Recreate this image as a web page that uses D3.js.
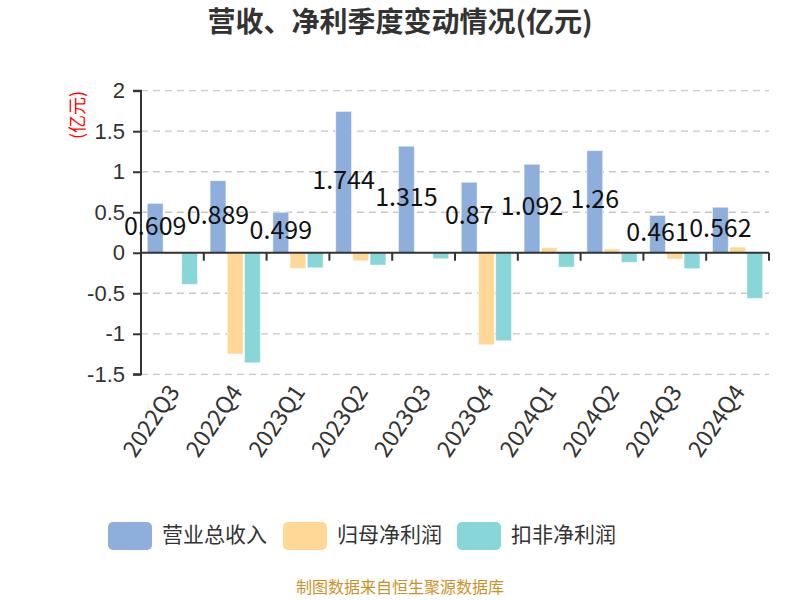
<!DOCTYPE html>
<html><head><meta charset="utf-8">
<script src="https://cdn.jsdelivr.net/npm/d3@7"></script>
<style>body{margin:0;background:#fff}svg{display:block;font-family:"Microsoft YaHei","Noto Sans CJK SC","Noto Sans",sans-serif}</style>
</head><body><svg id="c" width="800" height="600"></svg>
<script>
const categories = ["2022Q3","2022Q4","2023Q1","2023Q2","2023Q3","2023Q4","2024Q1","2024Q2","2024Q3","2024Q4"];
const revenue = [0.609,0.889,0.499,1.744,1.315,0.87,1.092,1.26,0.461,0.562];
const netProfit = [-0.02,-1.25,-0.193,-0.10,-0.005,-1.135,0.062,0.046,-0.078,0.07];
const deductedProfit = [-0.39,-1.358,-0.185,-0.152,-0.074,-1.086,-0.177,-0.119,-0.197,-0.563];
const seriesNames = ["营业总收入","归母净利润","扣非净利润"];
const colors = ["#8eaedb","#ffd898","#88d6d8"];
const yTicks = [2,1.5,1,0.5,0,-0.5,-1,-1.5];
const yTickLabels = ["2","1.5","1","0.5","0","-0.5","-1","-1.5"];

const svg = d3.select("#c");
const L=141, R=769, T=90.7, B=374.3;
const y = d3.scaleLinear().domain([-1.5,2]).range([B,T]);
const x = d3.scaleBand().domain(categories).range([L,R]).padding(0);
const step = x.step();
const x1 = d3.scaleBand().domain([0,1,2]).range([step*0.1,step*0.9]).paddingInner(0.08);

// title
svg.append("text").attr("x",400).attr("y",24).attr("text-anchor","middle").attr("dominant-baseline","middle")
  .attr("font-size",28).attr("font-weight","bold").attr("fill","#333").text("营收、净利季度变动情况(亿元)");

// grid
svg.append("g").selectAll("line").data(yTicks.filter(d=>d!==0)).join("line")
  .attr("x1",L).attr("x2",R).attr("y1",d=>y(d)).attr("y2",d=>y(d))
  .attr("stroke","#c8c8c8").attr("stroke-width",1.3).attr("stroke-dasharray","7,5");

// y axis
const yAxis = d3.axisLeft(y).tickValues(yTicks).tickFormat((d,i)=>yTickLabels[i]).tickSize(8).tickPadding(8);
const gy = svg.append("g").attr("transform",`translate(${L},0)`).call(yAxis);
gy.select(".domain").attr("stroke","#333").attr("stroke-width",2).attr("d",`M-8,${B}H0V${T}H-8`);
gy.selectAll(".tick line").attr("stroke","#333").attr("stroke-width",2);
gy.selectAll(".tick text").attr("font-size",22).attr("fill","#333").attr("font-family",null);

// y axis name
svg.append("text").attr("transform",`translate(79,115) rotate(-90)`).attr("text-anchor","middle").attr("dominant-baseline","middle")
  .attr("font-size",18).attr("fill","red").text("(亿元)");

// bars
const series = [revenue, netProfit, deductedProfit];
series.forEach((vals,si)=>{
  svg.append("g").selectAll("rect").data(vals).join("rect")
    .attr("x",(d,i)=>x(categories[i])+x1(si))
    .attr("width",x1.bandwidth())
    .attr("y",d=>Math.min(y(d),y(0)))
    .attr("height",d=>Math.abs(y(d)-y(0)))
    .attr("fill",colors[si]).attr("stroke","#fff").attr("stroke-opacity",0.5).attr("stroke-width",1);
});

// x axis at zero
const xAxis = d3.axisBottom(x).tickSize(0).tickFormat("");
const gx = svg.append("g").attr("transform",`translate(0,${y(0)})`).call(xAxis);
gx.select(".domain").attr("stroke","#333").attr("stroke-width",2).attr("d",`M${L},0H${R}`);
svg.append("g").selectAll("line").data(d3.range(categories.length+1)).join("line")
  .attr("x1",i=>L+i*step).attr("x2",i=>L+i*step).attr("y1",y(0)).attr("y2",y(0)+8)
  .attr("stroke","#333").attr("stroke-width",2);

// x labels
svg.append("g").selectAll("text").data(categories).join("text")
  .attr("transform",d=>`translate(${x(d)+step/2+3},${B+14}) rotate(-56)`)
  .attr("text-anchor","end").attr("dominant-baseline","middle")
  .attr("font-size",23).attr("fill","#333").text(d=>d);

// value labels
svg.append("g").selectAll("text").data(revenue).join("text")
  .attr("x",(d,i)=>x(categories[i])+x1(0)+x1.bandwidth()/2)
  .attr("y",d=>(y(d)+y(0))/2)
  .attr("text-anchor","middle").attr("dominant-baseline","middle")
  .attr("font-size",25).attr("fill","#111").text(d=>d);

// legend
const lx=[108,283,457];
seriesNames.forEach((n,i)=>{
  svg.append("rect").attr("x",lx[i]).attr("y",522).attr("width",44).attr("height",28).attr("rx",5).attr("fill",colors[i]);
  svg.append("text").attr("x",lx[i]+54).attr("y",536).attr("dominant-baseline","middle").attr("font-size",21).attr("fill","#333").text(n);
});

// footer
svg.append("text").attr("x",400).attr("y",589).attr("text-anchor","middle").attr("dominant-baseline","middle")
  .attr("font-size",16).attr("fill","#c8922a").text("制图数据来自恒生聚源数据库");
</script></body></html>
